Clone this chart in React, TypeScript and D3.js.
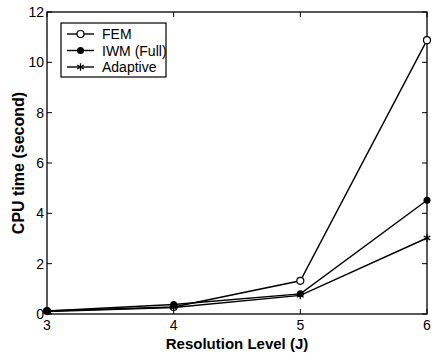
import React, { useEffect, useRef } from "react";
import * as d3 from "d3";

const levels = [3, 4, 5, 6];
const femTimes = [0.12, 0.28, 1.32, 10.88];
const iwmTimes = [0.12, 0.38, 0.8, 4.52];
const adaptiveTimes = [0.1, 0.26, 0.74, 3.02];
const yTicks = [0, 2, 4, 6, 8, 10, 12];
const seriesNames = ["FEM", "IWM (Full)", "Adaptive"];

const App = () => {
  const svgRef = useRef<SVGSVGElement>(null);

  useEffect(() => {
    const width = 433, height = 358;
    const margin = { top: 12, right: 6, bottom: 44, left: 47 };
    const font = "'Liberation Sans', Arial, sans-serif";

    const svg = d3.select(svgRef.current)
      .attr("width", width)
      .attr("height", height)
      .style("display", "block")
      .style("background", "#fff");
    svg.selectAll("*").remove();

    const x = d3.scaleLinear().domain([3, 6]).range([margin.left, width - margin.right]);
    const y = d3.scaleLinear().domain([0, 12]).range([height - margin.bottom, margin.top]);

    // frame
    svg.append("rect")
      .attr("x", x(3)).attr("y", y(12))
      .attr("width", x(6) - x(3)).attr("height", y(0) - y(12))
      .attr("fill", "none").attr("stroke", "#000").attr("stroke-width", 1.3);

    // inward ticks, all four sides
    const tl = 5;
    const ticksG = svg.append("g").attr("stroke", "#000").attr("stroke-width", 1);
    levels.forEach(v => {
      ticksG.append("line").attr("x1", x(v)).attr("x2", x(v)).attr("y1", y(0)).attr("y2", y(0) - tl);
      ticksG.append("line").attr("x1", x(v)).attr("x2", x(v)).attr("y1", y(12)).attr("y2", y(12) + tl);
    });
    yTicks.forEach(v => {
      ticksG.append("line").attr("x1", x(3)).attr("x2", x(3) + tl).attr("y1", y(v)).attr("y2", y(v));
      ticksG.append("line").attr("x1", x(6)).attr("x2", x(6) - tl).attr("y1", y(v)).attr("y2", y(v));
    });

    // tick labels
    svg.append("g").selectAll("text").data(levels).enter().append("text")
      .attr("x", d => x(d)).attr("y", y(0) + 16)
      .attr("text-anchor", "middle")
      .style("font", `14px ${font}`)
      .text(d => d);
    svg.append("g").selectAll("text").data(yTicks).enter().append("text")
      .attr("x", x(3) - 3).attr("y", d => y(d) + 5)
      .attr("text-anchor", "end")
      .style("font", `14px ${font}`)
      .text(d => d);

    // axis titles
    svg.append("text")
      .attr("x", (x(3) + x(6)) / 2).attr("y", height - 9)
      .attr("text-anchor", "middle")
      .style("font", `bold 15px ${font}`)
      .text("Resolution Level (J)");
    svg.append("text")
      .attr("transform", `translate(24,${(y(0) + y(12)) / 2}) rotate(-90)`)
      .attr("text-anchor", "middle")
      .style("font", `bold 16px ${font}`)
      .text("CPU time (second)");

    const series = [femTimes, iwmTimes, adaptiveTimes];
    const line = d3.line<number>().x((d, i) => x(levels[i])).y(d => y(d));

    const drawMarker = (g: any, k: number, cx: number, cy: number) => {
      if (k === 0) {
        g.append("circle").attr("cx", cx).attr("cy", cy).attr("r", 3.5)
          .attr("fill", "#fff").attr("stroke", "#000").attr("stroke-width", 1.2);
      } else if (k === 1) {
        g.append("circle").attr("cx", cx).attr("cy", cy).attr("r", 3.5)
          .attr("fill", "#000");
      } else {
        g.append("path").attr("d", d3.symbol(d3.symbolAsterisk, 40)())
          .attr("transform", `translate(${cx},${cy})`)
          .attr("fill", "none").attr("stroke", "#000").attr("stroke-width", 1.2);
      }
    };

    series.forEach((vals, k) => {
      svg.append("path").attr("d", line(vals)!)
        .attr("fill", "none").attr("stroke", "#000").attr("stroke-width", 1.4);
      const g = svg.append("g");
      vals.forEach((v, i) => drawMarker(g, k, x(levels[i]), y(v)));
    });

    // legend
    const lg = svg.append("g");
    lg.append("rect").attr("x", 61).attr("y", 23).attr("width", 105).attr("height", 54)
      .attr("fill", "#fff").attr("stroke", "#000").attr("stroke-width", 1.2);
    seriesNames.forEach((name, k) => {
      const ly = 34 + k * 16.5;
      lg.append("line").attr("x1", 67).attr("x2", 94).attr("y1", ly).attr("y2", ly)
        .attr("stroke", "#000").attr("stroke-width", 1.4);
      drawMarker(lg, k, 80.5, ly);
      lg.append("text").attr("x", 102).attr("y", ly + 5)
        .style("font", `14px ${font}`)
        .text(name);
    });
  }, []);

  return <svg ref={svgRef} style={{ position: "absolute", left: 0, top: 0 }}></svg>;
};

export default App;
